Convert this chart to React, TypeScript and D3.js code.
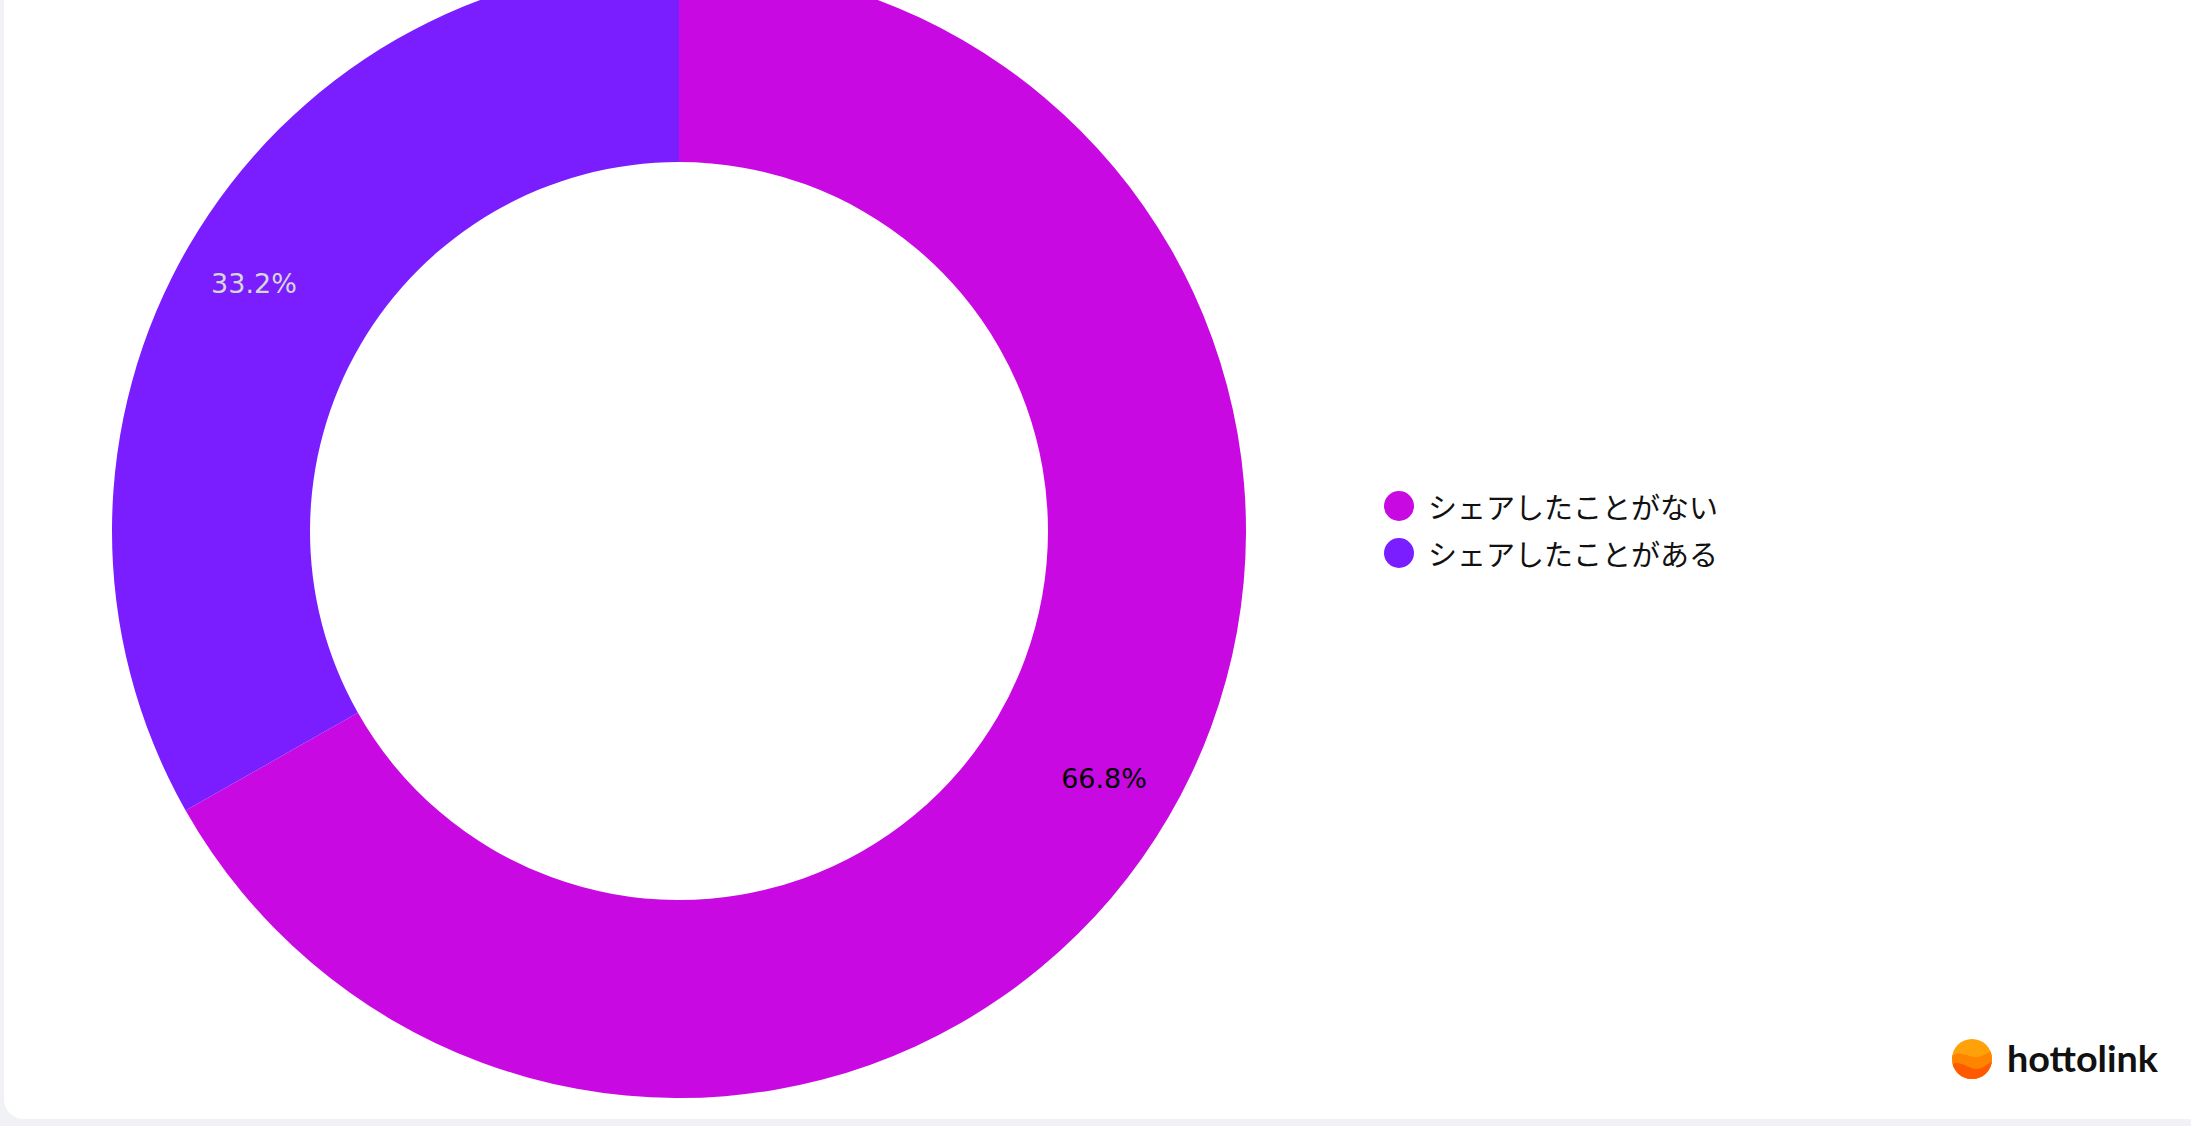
import React, { useEffect, useRef } from "react";
import * as d3 from "d3";

const categories = ["シェアしたことがない", "シェアしたことがある"];
const values = [66.8, 33.2];
const colors = ["#c809e2", "#7a1dff"];
const labelColors = ["#000000", "#d6d6d6"];

const DonutChart: React.FC = () => {
  const svgRef = useRef<SVGSVGElement | null>(null);

  useEffect(() => {
    if (!svgRef.current) return;

    const width = 2191;
    const height = 1126;
    const cx = 679;
    const cy = 531;
    const outer = 567;
    const inner = 369;

    const root = d3.select(svgRef.current);
    root.selectAll("*").remove();
    root.attr("width", width).attr("height", height);

    // page background + card
    root.append("rect").attr("width", width).attr("height", height).attr("fill", "#f1f2f6");
    root
      .append("rect")
      .attr("x", 4)
      .attr("y", -60)
      .attr("width", width + 60)
      .attr("height", 1119 + 60)
      .attr("rx", 20)
      .attr("fill", "#ffffff");

    const data = categories.map((c, i) => ({ name: c, value: values[i], i }));

    const pie = d3
      .pie<{ name: string; value: number; i: number }>()
      .sort(null)
      .value(d => d.value);

    const arc = d3
      .arc<d3.PieArcDatum<{ name: string; value: number; i: number }>>()
      .innerRadius(inner)
      .outerRadius(outer);

    const labelR = 492;
    const labelArc = d3
      .arc<d3.PieArcDatum<{ name: string; value: number; i: number }>>()
      .innerRadius(labelR)
      .outerRadius(labelR);

    const g = root.append("g").attr("transform", `translate(${cx},${cy})`);
    const arcs = pie(data);

    g.selectAll("path.slice")
      .data(arcs)
      .enter()
      .append("path")
      .attr("class", "slice")
      .attr("d", arc)
      .attr("fill", d => colors[d.data.i]);

    g.selectAll("text.lbl")
      .data(arcs)
      .enter()
      .append("text")
      .attr("class", "lbl")
      .attr("transform", d => `translate(${labelArc.centroid(d)})`)
      .attr("text-anchor", "middle")
      .attr("dominant-baseline", "central")
      .attr("font-family", "DejaVu Sans")
      .attr("font-size", 27)
      .attr("fill", d => labelColors[d.data.i])
      .text(d => `${d.data.value.toFixed(1)}%`);

    // legend
    const legendY = d3.scalePoint<string>().domain(categories).range([506, 553]);
    const legend = root.append("g");
    categories.forEach((c, i) => {
      const y = legendY(c)!;
      legend.append("circle").attr("cx", 1399).attr("cy", y).attr("r", 15).attr("fill", colors[i]);
      legend
        .append("text")
        .attr("x", 1428)
        .attr("y", y)
        .attr("dominant-baseline", "central")
        .attr("font-family", "Noto Sans CJK JP")
        .attr("font-size", 29)
        .attr("fill", "#111")
        .text(c);
    });

    // logo
    const logo = root.append("g").attr("transform", "translate(1972,1059)");
    const defs = root.append("defs");
    defs.append("clipPath").attr("id", "logoClip").append("circle").attr("r", 20);
    const lg = logo.append("g").attr("clip-path", "url(#logoClip)");
    lg.append("rect").attr("x", -21).attr("y", -21).attr("width", 42).attr("height", 42).attr("fill", "#ffa20a");
    lg.append("path")
      .attr("d", "M-22,-2 C-12,-10 -4,-2 4,-2 C12,-2 16,-8 22,-8 L22,22 L-22,22 Z")
      .attr("fill", "#ff8500");
    lg.append("path")
      .attr("d", "M-22,6 C-12,0 -4,10 4,10 C12,10 16,4 22,2 L22,22 L-22,22 Z")
      .attr("fill", "#ff5a00");
    root
      .append("text")
      .attr("x", 2007)
      .attr("y", 1072)
      .attr("font-family", "Lato")
      .attr("font-weight", 700)
      .attr("font-size", 36)
      .attr("textLength", 151)
      .attr("lengthAdjust", "spacingAndGlyphs")
      .attr("fill", "#111")
      .text("hottolink");
  }, []);

  return (
    <div style={{ position: "fixed", left: 0, top: 0 }}>
      <svg ref={svgRef} style={{ display: "block" }}></svg>
    </div>
  );
};

export default function App() {
  return <DonutChart />;
}
